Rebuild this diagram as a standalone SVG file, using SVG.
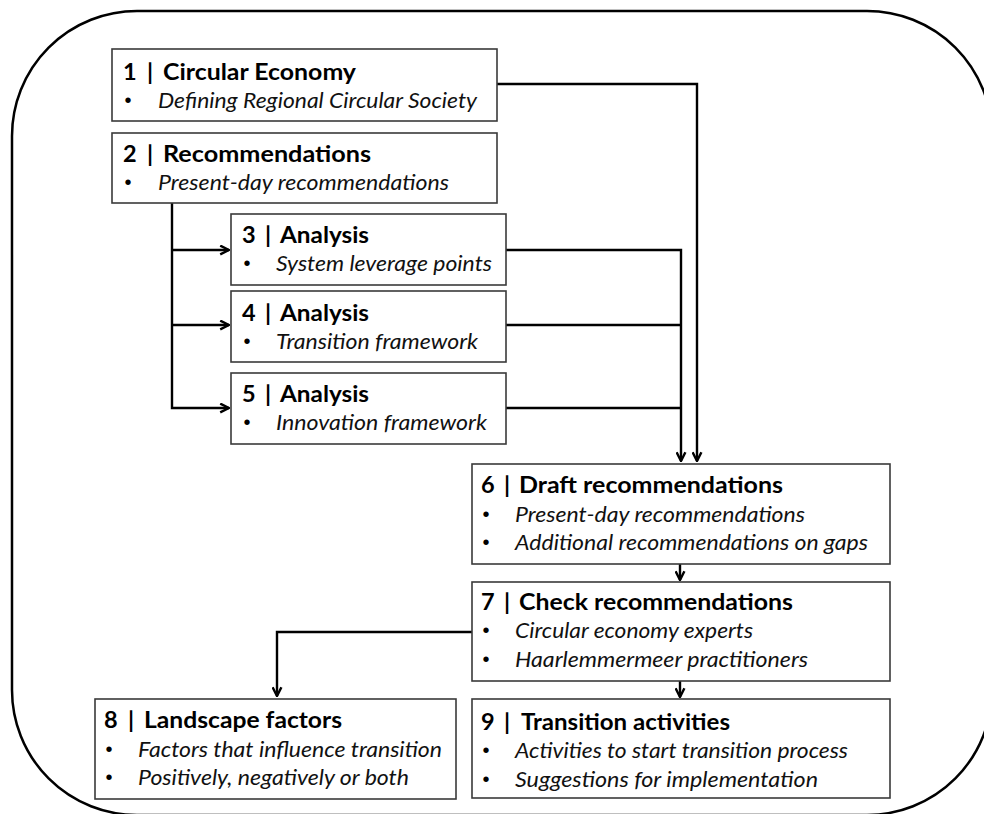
<svg xmlns="http://www.w3.org/2000/svg" width="984" height="814" viewBox="0 0 984 814">
  <defs>
    <style>
      .frame { fill: none; stroke: #000; stroke-width: 2.5; }
      .box { fill: #fff; stroke: #3a3a3a; stroke-width: 1.6; }
      .conn { fill: none; stroke: #000; stroke-width: 2.4; }
      .title { font-family: Lato, "Open Sans", "Liberation Sans", sans-serif; font-weight: bold; font-size: 23.5px; fill: #000; }
      .bar { font-family: Lato, "Open Sans", "Liberation Sans", sans-serif; font-weight: bold; font-size: 23.5px; fill: #000; text-anchor: middle; }
      .item { font-family: Lato, "Open Sans", "Liberation Sans", sans-serif; font-style: italic; font-size: 22px; fill: #111; }
      .dot { font-family: "Liberation Sans", sans-serif; font-size: 20px; fill: #000; text-anchor: middle; }
    </style>
    <marker id="arrow" viewBox="0 0 10 10" refX="9" refY="5" markerWidth="11" markerHeight="11" markerUnits="userSpaceOnUse" orient="auto">
      <path d="M1,1 L9,5 L1,9" fill="none" stroke="#000" stroke-width="2.2"/>
    </marker>
  </defs>

  <rect class="frame" x="12" y="11" width="980" height="804" rx="125" ry="125"/>

  <g id="connectors">
    <path class="conn" d="M497,84 H697 V461" marker-end="url(#arrow)"/>
    <path class="conn" d="M172,203 V408 H229" marker-end="url(#arrow)"/>
    <path class="conn" d="M172,250 H229" marker-end="url(#arrow)"/>
    <path class="conn" d="M172,325 H229" marker-end="url(#arrow)"/>
    <path class="conn" d="M506,250 H681 V461" marker-end="url(#arrow)"/>
    <path class="conn" d="M506,325 H681"/>
    <path class="conn" d="M506,408 H681"/>
    <path class="conn" d="M680,564 V580" marker-end="url(#arrow)"/>
    <path class="conn" d="M472,632 H277 V696" marker-end="url(#arrow)"/>
    <path class="conn" d="M680,681 V697" marker-end="url(#arrow)"/>
  </g>

  <g id="node1">
    <rect class="box" x="112" y="49" width="385" height="72"/>
    <text class="title" x="123" y="80">1</text>
    <text class="bar" x="150" y="80">|</text>
    <text class="title" x="163" y="80" textLength="193" lengthAdjust="spacingAndGlyphs">Circular Economy</text>
    <text class="dot" x="128" y="107">•</text>
    <text class="item" x="158" y="108" textLength="319" lengthAdjust="spacingAndGlyphs">Defining Regional Circular Society</text>
  </g>

  <g id="node2">
    <rect class="box" x="112" y="133" width="385" height="70"/>
    <text class="title" x="123" y="162">2</text>
    <text class="bar" x="150" y="162">|</text>
    <text class="title" x="163" y="162" textLength="208" lengthAdjust="spacingAndGlyphs">Recommendations</text>
    <text class="dot" x="128" y="189">•</text>
    <text class="item" x="158" y="190" textLength="291" lengthAdjust="spacingAndGlyphs">Present-day recommendations</text>
  </g>

  <g id="node3">
    <rect class="box" x="231" y="214" width="275" height="71"/>
    <text class="title" x="242" y="243">3</text>
    <text class="bar" x="268" y="243">|</text>
    <text class="title" x="280" y="243" textLength="89" lengthAdjust="spacingAndGlyphs">Analysis</text>
    <text class="dot" x="247" y="270">•</text>
    <text class="item" x="276" y="271" textLength="216" lengthAdjust="spacingAndGlyphs">System leverage points</text>
  </g>

  <g id="node4">
    <rect class="box" x="231" y="291" width="275" height="71"/>
    <text class="title" x="242" y="321">4</text>
    <text class="bar" x="268" y="321">|</text>
    <text class="title" x="280" y="321" textLength="89" lengthAdjust="spacingAndGlyphs">Analysis</text>
    <text class="dot" x="247" y="348">•</text>
    <text class="item" x="276" y="349" textLength="202" lengthAdjust="spacingAndGlyphs">Transition framework</text>
  </g>

  <g id="node5">
    <rect class="box" x="231" y="373" width="275" height="71"/>
    <text class="title" x="242" y="402">5</text>
    <text class="bar" x="268" y="402">|</text>
    <text class="title" x="280" y="402" textLength="89" lengthAdjust="spacingAndGlyphs">Analysis</text>
    <text class="dot" x="247" y="429">•</text>
    <text class="item" x="276" y="430" textLength="211" lengthAdjust="spacingAndGlyphs">Innovation framework</text>
  </g>

  <g id="node6">
    <rect class="box" x="472" y="464" width="418" height="100"/>
    <text class="title" x="481" y="493">6</text>
    <text class="bar" x="507" y="493">|</text>
    <text class="title" x="519" y="493" textLength="264" lengthAdjust="spacingAndGlyphs">Draft recommendations</text>
    <text class="dot" x="486" y="521">•</text>
    <text class="item" x="515" y="522" textLength="290" lengthAdjust="spacingAndGlyphs">Present-day recommendations</text>
    <text class="dot" x="486" y="549">•</text>
    <text class="item" x="515" y="550" textLength="353" lengthAdjust="spacingAndGlyphs">Additional recommendations on gaps</text>
  </g>

  <g id="node7">
    <rect class="box" x="472" y="582" width="418" height="99"/>
    <text class="title" x="481" y="610">7</text>
    <text class="bar" x="507" y="610">|</text>
    <text class="title" x="519" y="610" textLength="274" lengthAdjust="spacingAndGlyphs">Check recommendations</text>
    <text class="dot" x="486" y="637">•</text>
    <text class="item" x="515" y="638" textLength="238" lengthAdjust="spacingAndGlyphs">Circular economy experts</text>
    <text class="dot" x="486" y="666">•</text>
    <text class="item" x="515" y="667" textLength="293" lengthAdjust="spacingAndGlyphs">Haarlemmermeer practitioners</text>
  </g>

  <g id="node8">
    <rect class="box" x="95" y="699" width="361" height="100"/>
    <text class="title" x="104" y="728">8</text>
    <text class="bar" x="131" y="728">|</text>
    <text class="title" x="144" y="728" textLength="198" lengthAdjust="spacingAndGlyphs">Landscape factors</text>
    <text class="dot" x="109" y="756">•</text>
    <text class="item" x="138" y="757" textLength="304" lengthAdjust="spacingAndGlyphs">Factors that influence transition</text>
    <text class="dot" x="109" y="784">•</text>
    <text class="item" x="138" y="785" textLength="271" lengthAdjust="spacingAndGlyphs">Positively, negatively or both</text>
  </g>

  <g id="node9">
    <rect class="box" x="472" y="699" width="418" height="99"/>
    <text class="title" x="481" y="730">9</text>
    <text class="bar" x="507" y="730">|</text>
    <text class="title" x="521" y="730" textLength="209" lengthAdjust="spacingAndGlyphs">Transition activities</text>
    <text class="dot" x="486" y="757">•</text>
    <text class="item" x="515" y="758" textLength="333" lengthAdjust="spacingAndGlyphs">Activities to start transition process</text>
    <text class="dot" x="486" y="786">•</text>
    <text class="item" x="515" y="787" textLength="303" lengthAdjust="spacingAndGlyphs">Suggestions for implementation</text>
  </g>
</svg>
